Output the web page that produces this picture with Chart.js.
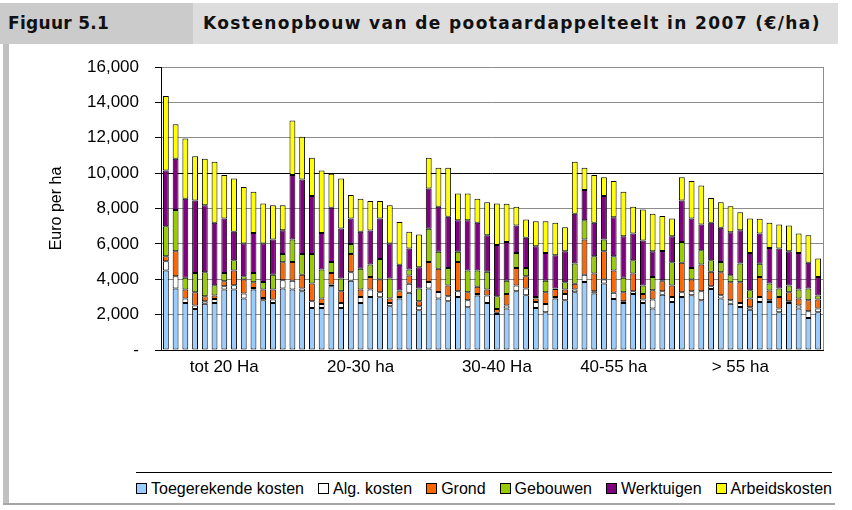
<!DOCTYPE html>
<html>
<head>
<meta charset="utf-8">
<script src="https://cdn.jsdelivr.net/npm/chart.js@4"></script>
<style>
  body { margin: 0; width: 852px; height: 510px; background: #fff; position: relative; overflow: hidden; font-family: "Liberation Sans", Arial, sans-serif; }
  .kop1 { position: absolute; left: 0; top: 3px; width: 193px; height: 41px; background: #cbcbcb; }
  .kop2 { position: absolute; left: 193px; top: 3px; width: 645px; height: 41px; background: #dddddd; }
  .kop1 span, .kop2 span { position: absolute; top: 10px; font: bold 17px "DejaVu Sans", sans-serif; color: #111; white-space: nowrap; }
  .kop1 span { left: 8px; letter-spacing: 0.3px; }
  .kop2 span { left: 10px; letter-spacing: 1.4px; }
  .rand { position: absolute; left: 3px; top: 44px; width: 6px; height: 461px; background: #c0c0c0; }
  .onder { position: absolute; left: 3px; top: 503px; width: 832px; height: 2px; background: #a6a6a6; }
  #wrap { position: absolute; left: 0; top: 44px; }
  #legenda { position: absolute; left: 136px; top: 472px; width: 696px; height: 31px; border-top: 1px solid #000;
             display: flex; align-items: center; justify-content: space-between; font-size: 16px; color: #000; }
  #legenda div { display: flex; align-items: center; white-space: nowrap; }
  #legenda i { display: inline-block; width: 9px; height: 9px; border: 1px solid #000; margin-right: 4px; }
</style>
</head>
<body>
<div class="kop1"><span>Figuur 5.1</span></div>
<div class="kop2"><span>Kostenopbouw van de pootaardappelteelt in 2007 (€/ha)</span></div>
<div class="rand"></div>
<div id="wrap"><canvas id="myChart" width="852" height="340"></canvas></div>
<div id="legenda"></div>
<div class="onder"></div>
<script>
// categorieen per bedrijf, label alleen bij het midden van elke groep
const categorieen = [
  '', '', '', '', '', '', 'tot 20 Ha', '', '', '', '', '', '',
  '', '', '', '', '', '', '', '20-30 ha', '', '', '', '', '', '',
  '', '', '', '', '', '', '', '30-40 Ha', '', '', '', '', '', '', '',
  '', '', '', '', '40-55 ha', '', '', '', '', '', '',
  '', '', '', '', '', '', '> 55 ha', '', '', '', '', '', '', '', ''
];

const toegerekend = [4490,3470,2660,2320,2620,2660,3420,3420,2910,3420,2810,2660,3470,
  3420,3320,2380,2380,3600,2380,3920,2660,3000,2980,2470,2910,3230,2250,
  3470,2910,2760,3000,2420,3080,2660,2040,2340,3320,3090,2380,2130,2910,2810,
  3260,3850,3190,3760,2890,2660,3170,2660,2340,3130,2720,
  3000,3090,2810,3450,2910,2620,2430,2280,2720,2720,2130,2660,2340,1810,2130];
const algKosten = [530,700,250,190,140,230,180,240,280,90,130,190,470,
  500,150,380,220,100,280,480,340,420,280,190,90,510,220,
  380,370,280,320,390,90,420,60,170,320,380,340,470,90,360,
  160,410,130,220,340,100,150,190,510,190,280,
  260,230,510,150,180,190,230,140,280,90,210,100,170,380,210];
const grond = [280,1420,510,750,280,190,290,830,790,320,480,570,1020,
  1060,790,1000,310,660,660,1030,420,710,720,250,320,470,290,
  1130,1310,600,1660,450,400,340,220,660,1000,700,190,660,450,250,
  320,1990,1000,1610,1260,500,1000,320,530,570,640,
  1670,660,1510,820,1310,1020,1170,490,1130,550,660,500,400,620,510];
const gebouwen = [1700,2320,660,1100,1360,580,470,590,190,530,430,840,470,
  1270,1170,1670,1640,620,720,570,1180,700,1170,1130,50,340,710,
  1870,960,1000,570,1230,920,1000,720,750,850,470,90,660,20,410,
  1150,1090,980,660,810,820,760,470,750,50,1320,
  1170,660,810,660,580,400,1060,470,750,400,470,380,510,660,230];
const werktuigen = [3150,2900,4470,4090,3790,3530,3070,1600,1850,2260,2170,1990,1340,
  3640,4210,3270,2070,3060,2830,1430,2080,1930,2280,1980,1450,1190,1210,
  2280,2550,2890,1790,2850,2700,2070,2890,2180,1550,1700,2870,1570,1890,1760,
  2810,1700,1890,2450,2210,2350,1510,2550,1460,1660,1470,
  2350,2790,1460,2110,1930,2430,1880,2110,1700,2010,2270,1950,2070,1460,1050];
const arbeid = [4210,1950,3410,2510,2620,3450,2460,3020,3190,2320,2260,1940,1420,
  3090,2420,2170,3530,1920,2830,1340,1870,1660,990,2170,2420,940,1850,
  1740,2200,2770,1510,1510,1360,1870,2350,2170,1060,1040,1410,1790,1830,1350,
  2940,1260,2700,1070,2040,2510,1510,1750,2110,1980,1000,
  1320,2120,2200,1410,1450,1470,1020,1940,840,1420,1360,1450,1100,1560,1040];

const yTicks = [0, 2000, 4000, 6000, 8000, 10000, 12000, 14000, 16000];

const reeksen = [
  { naam: 'Toegerekende kosten', data: toegerekend, kleur: '#99ccff' },
  { naam: 'Alg. kosten', data: algKosten, kleur: '#ffffff' },
  { naam: 'Grond', data: grond, kleur: '#ff6600' },
  { naam: 'Gebouwen', data: gebouwen, kleur: '#99cc00' },
  { naam: 'Werktuigen', data: werktuigen, kleur: '#800080' },
  { naam: 'Arbeidskosten', data: arbeid, kleur: '#ffff00' }
];

const asFont = { family: '"Liberation Sans", Arial, sans-serif', size: 17 };

const rechterRand = {
  id: 'rechterRand',
  afterDraw(chart) {
    const a = chart.chartArea, c = chart.ctx;
    c.save();
    c.strokeStyle = '#8c8c8c';
    c.lineWidth = 1;
    c.beginPath();
    c.moveTo(Math.round(a.right) + 0.5, a.top);
    c.lineTo(Math.round(a.right) + 0.5, a.bottom);
    c.stroke();
    c.restore();
  }
};

const ctx = document.getElementById('myChart');
new Chart(ctx, {
  type: 'bar',
  data: {
    labels: categorieen,
    datasets: reeksen.map(r => ({
      label: r.naam,
      data: r.data,
      backgroundColor: r.kleur,
      borderColor: '#000',
      borderWidth: 1,
      borderSkipped: false,
      barPercentage: 0.6,
      categoryPercentage: 1
    }))
  },
  options: {
    responsive: false,
    animation: false,
    layout: { padding: { left: 43, right: 29, top: 23, bottom: 0 } },
    plugins: { legend: { display: false }, tooltip: { enabled: false } },
    scales: {
      x: {
        stacked: true,
        grid: { display: false, drawTicks: false },
        border: { color: '#000' },
        ticks: { autoSkip: false, maxRotation: 0, minRotation: 0, color: '#000', font: asFont, padding: 7 },
        afterFit(s) { s.height = 34; }
      },
      y: {
        stacked: true,
        min: 0,
        max: 16000,
        afterBuildTicks(s) { s.ticks = yTicks.map(v => ({ value: v })); },
        ticks: {
          color: '#000',
          font: { family: '"Liberation Sans", Arial, sans-serif', size: 17, lineHeight: 0.8 },
          padding: 16,
          callback: v => v === 0 ? '-' : v.toLocaleString('en-US')
        },
        grid: {
          color: c => c.tick && c.tick.value === 10000 ? '#000' : '#8c8c8c',
          tickColor: '#000',
          tickLength: 6
        },
        border: { color: '#000' },
        title: { display: true, text: 'Euro per ha', color: '#000', font: { family: '"Liberation Sans", Arial, sans-serif', size: 16 } },
        afterFit(s) { s.width = 118; }
      }
    }
  },
  plugins: [rechterRand]
});

const legenda = document.getElementById('legenda');
reeksen.forEach(r => {
  legenda.innerHTML += `<div><i style="background:${r.kleur}"></i>${r.naam}</div>`;
});
</script>
</body>
</html>
